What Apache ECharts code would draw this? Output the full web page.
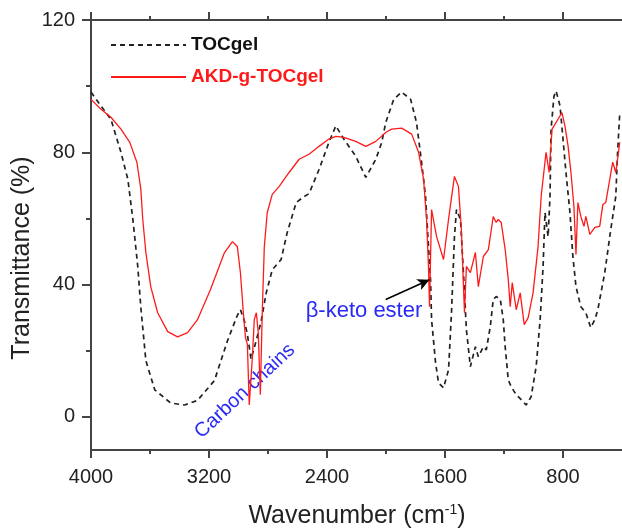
<!DOCTYPE html>
<html>
<head>
<meta charset="utf-8">
<title>FTIR spectra</title>
<script src="https://cdn.jsdelivr.net/npm/echarts@6.0.0/dist/echarts.min.js"></script>
<style>
  html, body { margin: 0; padding: 0; background: #fff; }
  #chart { width: 622px; height: 528px; }
</style>
</head>
<body>
<div id="chart"></div>
<script>
// Wavenumber (cm-1) and transmittance (%) for each sample
const tocWn = [4000, 3932, 3865, 3797, 3750, 3716, 3683, 3662, 3628, 3568, 3460, 3365, 3278, 3163, 3075, 3010, 2987, 2960, 2940, 2915, 2880, 2846, 2812, 2771, 2711, 2670, 2609, 2560, 2522, 2454, 2387, 2340, 2286, 2205, 2137, 2069, 2029, 2002, 1948, 1894, 1833, 1793, 1759, 1732, 1712, 1698, 1691, 1664, 1644, 1610, 1576, 1556, 1536, 1522, 1495, 1475, 1455, 1428, 1394, 1374, 1340, 1320, 1293, 1273, 1253, 1225, 1205, 1192, 1171, 1151, 1117, 1083, 1050, 1016, 982, 955, 935, 922, 901, 888, 881, 861, 847, 820, 800, 780, 753, 733, 712, 679, 645, 612, 584, 564, 517, 476, 442, 430, 415];
const tocT = [98.2, 94, 90, 80, 71.8, 59.7, 45.5, 33, 17, 8.2, 4.2, 3.6, 5, 11, 23, 30.5, 32.4, 29, 25, 17.5, 23, 29, 37.5, 44.5, 47.6, 55.7, 64.8, 66.5, 67.5, 74.8, 83, 88, 84, 78.8, 72.4, 77.9, 83, 89, 96, 98.2, 96, 89, 77, 66.7, 51.5, 41.5, 29.4, 16.4, 10.3, 8.8, 14.2, 31.5, 54.5, 62.7, 59.7, 43.6, 26.4, 15.2, 21.2, 18.2, 21.2, 20.3, 27.3, 35.5, 36.4, 35.5, 29.4, 21.2, 11.2, 9.1, 6.7, 5.2, 3.6, 6.1, 15.2, 29.4, 45.5, 61.8, 54.5, 66.7, 87, 97, 98.5, 94, 84, 74, 61.8, 48.5, 39.4, 33.3, 31.5, 27, 29.4, 32.4, 43.6, 56.7, 66.7, 80, 92];

const akdWn = [4000, 3932, 3865, 3797, 3737, 3689, 3662, 3649, 3628, 3595, 3548, 3480, 3413, 3345, 3278, 3190, 3095, 3041, 3008, 2987, 2967, 2953, 2940, 2927, 2906, 2893, 2879, 2866, 2852, 2839, 2825, 2805, 2771, 2724, 2657, 2589, 2522, 2454, 2387, 2340, 2286, 2205, 2137, 2069, 2002, 1962, 1894, 1826, 1779, 1745, 1725, 1712, 1705, 1691, 1657, 1610, 1576, 1536, 1509, 1489, 1468, 1455, 1428, 1394, 1374, 1340, 1306, 1273, 1253, 1239, 1219, 1192, 1171, 1158, 1144, 1117, 1090, 1063, 1036, 1003, 969, 948, 915, 894, 874, 834, 807, 787, 766, 746, 726, 712, 699, 679, 658, 645, 618, 584, 551, 530, 510, 483, 463, 442, 415];
const akdT = [96, 93, 90.6, 87, 83, 77, 68.8, 59.7, 49.7, 39.4, 31.5, 25.8, 24.2, 25.5, 29.4, 38.5, 49.7, 53, 51.5, 43.6, 31.5, 24, 22, 3.6, 18, 29.4, 31.5, 25.5, 6.7, 31.5, 51.5, 61.8, 67.3, 69.7, 73.9, 77.9, 79.4, 81.8, 84, 84.8, 84.5, 83.3, 81.8, 83.3, 86, 87, 87.3, 85.5, 80, 71.8, 59.7, 45.5, 33.3, 62.7, 54.5, 47.6, 59.7, 72.7, 69.7, 56.7, 31.5, 45.5, 43.6, 49.7, 39.4, 48.5, 50.6, 60.6, 58.8, 59.7, 58.8, 50.6, 41.5, 33.3, 40.6, 32.4, 37.5, 27.9, 30, 37.5, 51.5, 66.7, 80, 73.9, 87, 90, 92, 88, 82, 73.9, 63.6, 49.1, 64.8, 60.6, 57.6, 60.6, 55.2, 57.3, 57.6, 64.2, 64.8, 71.8, 77, 73.9, 83];

// Axis ticks
const xMajor = [4000, 3200, 2400, 1600, 800];
const xMinor = [3600, 2800, 2000, 1200];
const yMajor = [0, 40, 80, 120];
const yMinor = [20, 60, 100];

// Arrow to the beta-keto ester band: [wavenumber, transmittance]
const arrowFrom = [2002, 35.5];
const arrowTo = [1705, 41.5];

const FONT = 'Liberation Sans, Arial, sans-serif';
const AXIS = '#444';
const BLUE = '#2a2af5';

function xAxisDef(position, ticks, len, showLine, showLabels) {
  return {
    type: 'value', min: 400, max: 4000, inverse: true, position: position,
    axisLine: { show: showLine, onZero: false, lineStyle: { color: AXIS, width: 2 } },
    axisTick: { show: true, customValues: ticks, length: len, lineStyle: { color: AXIS, width: 2 } },
    axisLabel: {
      show: showLabels, customValues: ticks, fontSize: 20, color: '#222', fontFamily: FONT, margin: 17,
      formatter: v => String(v)
    },
    splitLine: { show: false }
  };
}
function yAxisDef(ticks, len, showLine, showLabels) {
  return {
    type: 'value', min: -10, max: 120, position: 'left',
    axisLine: { show: showLine, onZero: false, lineStyle: { color: AXIS, width: 2 } },
    axisTick: { show: true, customValues: ticks, length: len, lineStyle: { color: AXIS, width: 2 } },
    axisLabel: { show: showLabels, customValues: ticks, fontSize: 20, color: '#222', fontFamily: FONT, margin: 16 },
    splitLine: { show: false }
  };
}

const chart = echarts.init(document.getElementById('chart'), null, { renderer: 'canvas' });
chart.setOption({
  animation: false,
  backgroundColor: '#fff',
  grid: { left: 91, top: 20, bottom: 78, right: -2, containLabel: false },
  xAxis: [
    xAxisDef('bottom', xMajor, 8, true, true),
    xAxisDef('bottom', xMinor, 4, false, false),
    xAxisDef('top', xMajor, 8, true, false),
    xAxisDef('top', xMinor, 4, false, false)
  ],
  yAxis: [
    yAxisDef(yMajor, 9, true, true),
    yAxisDef(yMinor, 5, false, false)
  ],
  legend: {
    orient: 'vertical', left: 110, top: 35, padding: 0,
    itemWidth: 75, itemHeight: 14, itemGap: 12,
    itemStyle: { opacity: 0 },
    textStyle: { fontSize: 19, fontWeight: 'bold', fontFamily: FONT, lineHeight: 20 },
    data: [
      { name: 'TOCgel', textStyle: { color: '#111' } },
      { name: 'AKD-g-TOCgel', textStyle: { color: '#ff1a1a' } }
    ]
  },
  series: [
    {
      name: 'TOCgel', type: 'line', xAxisIndex: 0, yAxisIndex: 0,
      symbol: 'none', showSymbol: false,
      lineStyle: { color: '#222', width: 1.7, type: [5, 4] },
      itemStyle: { color: '#222' },
      data: tocWn.map((w, i) => [w, tocT[i]])
    },
    {
      name: 'AKD-g-TOCgel', type: 'line', xAxisIndex: 0, yAxisIndex: 0,
      symbol: 'none', showSymbol: false,
      lineStyle: { color: '#ff1a1a', width: 1.3 },
      itemStyle: { color: '#ff1a1a' },
      data: akdWn.map((w, i) => [w, akdT[i]]),
      markLine: {
        silent: true, symbol: ['none', 'arrow'], symbolSize: [9, 12],
        lineStyle: { color: '#000', width: 1.6, type: 'solid' },
        label: { show: false },
        data: [[{ coord: arrowFrom }, { coord: arrowTo }]]
      }
    }
  ],
  graphic: [
    {
      type: 'text', x: 22, y: 258, rotation: Math.PI / 2,
      style: { text: 'Transmittance (%)', fontSize: 25, fontFamily: FONT, fill: '#222', align: 'center', verticalAlign: 'middle' }
    },
    {
      type: 'text', x: 357, y: 516,
      style: {
        text: 'Wavenumber (cm{s|-1})', fontSize: 25, fontFamily: FONT, fill: '#222',
        align: 'center', verticalAlign: 'middle',
        rich: { s: { fontSize: 14, fontFamily: FONT, fill: '#222', verticalAlign: 'top', lineHeight: 25 } }
      }
    },
    {
      type: 'text', x: 245, y: 391, rotation: 0.75,
      style: { text: 'Carbon chains', fontSize: 20, fontFamily: FONT, fill: BLUE, align: 'center', verticalAlign: 'middle' }
    },
    {
      type: 'text', x: 364, y: 311,
      style: { text: 'β-keto ester', fontSize: 22, fontFamily: FONT, fill: BLUE, align: 'center', verticalAlign: 'middle' }
    }
  ]
});
</script>
</body>
</html>
